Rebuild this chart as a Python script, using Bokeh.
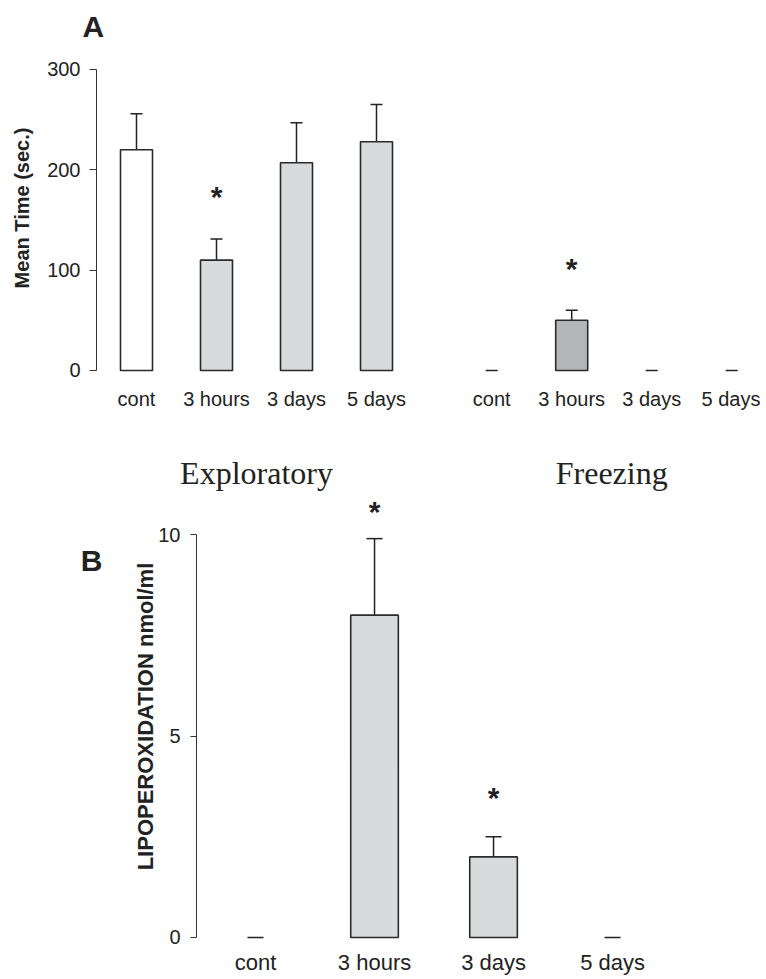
from bokeh.plotting import figure
from bokeh.models import (ColumnDataSource, Range1d, FixedTicker, LinearAxis,
                          Whisker, TeeHead)
from bokeh.core.properties import value
from bokeh.embed import file_html
from bokeh.resources import INLINE

# ---------------- data ----------------
categories = ["cont", "3 hours", "3 days", "5 days"]
groups = ["Exploratory", "Freezing"]

exploratory_mean = [220, 110, 207, 228]
exploratory_err = [36, 21, 40, 37]
exploratory_star = [None, 176, None, None]

freezing_mean = [0, 50, 0, 0]
freezing_err = [0, 10, 0, 0]
freezing_star = [None, 105, None, None]

lipo_mean = [0, 8.0, 2.0, 0]
lipo_err = [0, 1.9, 0.5, 0]
lipo_star = [None, 10.65, 3.55, None]

top_ticks = [0, 100, 200, 300]
bottom_ticks = [0, 5, 10]

# ---------------- styles ----------------
EXPL_COLORS = ["#ffffff", "#d9dadc", "#d9dadc", "#d9dadc"]
FREEZ_COLOR = "#b4b5b7"
LIPO_COLOR = "#d9dadc"
INK = "#222222"
SANS = "Liberation Sans"
SERIF = "Liberation Serif"
GROUP_GAP = 0.44
BAR_W = 0.4
B_TICK = 9.35   # vertical position of the panel letter "B"


def style_common(p):
    p.xgrid.visible = False
    p.ygrid.visible = False
    p.outline_line_color = None
    p.background_fill_color = "white"
    p.border_fill_color = "white"


def bare_axis(ax, standoff, font, size, style="normal"):
    ax.axis_line_color = None
    ax.major_tick_line_color = None
    ax.minor_tick_line_color = None
    ax.major_tick_out = 0
    ax.major_tick_in = 0
    ax.major_label_standoff = standoff
    ax.major_label_text_font = font
    ax.major_label_text_font_size = size
    ax.major_label_text_font_style = style
    ax.major_label_text_color = INK


# ================= panel A =================
x_expl = [float(i) for i in range(len(categories))]
x_freez = [len(categories) + GROUP_GAP + i for i in range(len(categories))]
x_all = x_expl + x_freez
mean_all = exploratory_mean + freezing_mean
err_all = exploratory_err + freezing_err
fill_all = EXPL_COLORS + [FREEZ_COLOR] * len(freezing_mean)
star_all = exploratory_star + freezing_star
labels_all = categories + categories

bars_a = ColumnDataSource(dict(
    x=[x for x, m in zip(x_all, mean_all) if m > 0],
    top=[m for m in mean_all if m > 0],
    fill=[f for f, m in zip(fill_all, mean_all) if m > 0],
))
err_a = ColumnDataSource(dict(
    x=x_all, lower=mean_all, upper=[m + e for m, e in zip(mean_all, err_all)]))
star_a = ColumnDataSource(dict(
    x=[x for x, s in zip(x_all, star_all) if s is not None],
    y=[s for s in star_all if s is not None],
    t=["*" for s in star_all if s is not None]))

pA = figure(width=760, height=493, x_range=Range1d(-0.5, 7.7),
            y_range=Range1d(-3, 326.9), output_backend="svg",
            toolbar_location=None, title="A",
            min_border_left=96, min_border_right=8, min_border_top=42,
            min_border_bottom=120)
style_common(pA)
pA.title.text_font = SANS
pA.title.text_font_size = "30px"
pA.title.text_font_style = "bold"
pA.title.text_color = INK
pA.title.align = "left"
pA.title.offset = -14
pA.title.standoff = 0

pA.vbar(x="x", top="top", bottom=0, width=BAR_W, source=bars_a,
        fill_color="fill", line_color="#2a2a2a", line_width=1.6)
wA = Whisker(base="x", lower="lower", upper="upper", source=err_a,
             dimension="height", line_color=INK, line_width=1.5,
             lower_head=None,
             upper_head=TeeHead(size=12, line_color=INK, line_width=1.5))
pA.add_layout(wA)
pA.text(x="x", y="y", text="t", source=star_a, text_align="center",
        text_baseline="middle", text_font=value(SANS),
        text_font_size="30px", text_font_style="bold", text_color=INK,
        y_offset=3)

ya = pA.yaxis[0]
ya.ticker = FixedTicker(ticks=top_ticks)
ya.bounds = (top_ticks[0], top_ticks[-1])
ya.major_tick_out = 7
ya.major_tick_in = 0
ya.minor_tick_line_color = None
ya.axis_line_color = "#333333"
ya.major_tick_line_color = "#333333"
ya.major_label_standoff = 9
ya.major_label_text_font = SANS
ya.major_label_text_font_size = "20px"
ya.major_label_text_color = INK
ya.axis_label = "Mean Time (sec.)"
ya.axis_label_text_font = SANS
ya.axis_label_text_font_size = "20px"
ya.axis_label_text_font_style = "bold"
ya.axis_label_text_color = INK
ya.axis_label_standoff = 11

xa = pA.xaxis[0]
xa.ticker = FixedTicker(ticks=x_all)
xa.major_label_overrides = {x: lab for x, lab in zip(x_all, labels_all)}
bare_axis(xa, 14, SANS, "20px")

group_centers = [sum(x_expl) / len(x_expl), sum(x_freez) / len(x_freez)]
xg = LinearAxis(ticker=FixedTicker(ticks=group_centers),
                major_label_overrides={c: g for c, g in zip(group_centers, groups)})
bare_axis(xg, 42, SERIF, "32px")
pA.add_layout(xg, "below")

# ================= panel B =================
x_b = [float(i) for i in range(len(categories))]
bars_b = ColumnDataSource(dict(
    x=[x for x, m in zip(x_b, lipo_mean) if m > 0],
    top=[m for m in lipo_mean if m > 0]))
err_b = ColumnDataSource(dict(
    x=x_b, lower=lipo_mean, upper=[m + e for m, e in zip(lipo_mean, lipo_err)]))
star_b = ColumnDataSource(dict(
    x=[x for x, s in zip(x_b, lipo_star) if s is not None],
    y=[s for s in lipo_star if s is not None],
    t=["*" for s in lipo_star if s is not None]))

pB = figure(width=760, height=486, x_range=Range1d(-0.496, 4.176),
            y_range=Range1d(-0.05, 11.02), output_backend="svg",
            toolbar_location=None, title=None,
            min_border_left=196, min_border_right=8, min_border_top=0,
            min_border_bottom=40)
style_common(pB)

pB.vbar(x="x", top="top", bottom=0, width=BAR_W, source=bars_b,
        fill_color=LIPO_COLOR, line_color="#2a2a2a", line_width=1.6)
wB = Whisker(base="x", lower="lower", upper="upper", source=err_b,
             dimension="height", line_color=INK, line_width=1.5,
             lower_head=None,
             upper_head=TeeHead(size=16, line_color=INK, line_width=1.5))
pB.add_layout(wB)
pB.text(x="x", y="y", text="t", source=star_b, text_align="center",
        text_baseline="middle", text_font=value(SANS),
        text_font_size="30px", text_font_style="bold", text_color=INK,
        y_offset=3)

yb = pB.yaxis[0]
yb.ticker = FixedTicker(ticks=bottom_ticks)
yb.bounds = (bottom_ticks[0], bottom_ticks[-1])
yb.major_tick_out = 6
yb.major_tick_in = 0
yb.minor_tick_line_color = None
yb.axis_line_color = "#333333"
yb.major_tick_line_color = "#333333"
yb.major_label_standoff = 10
yb.major_label_text_font = SANS
yb.major_label_text_font_size = "20px"
yb.major_label_text_color = INK
yb.axis_label = "LIPOPEROXIDATION nmol/ml"
yb.axis_label_text_font = SANS
yb.axis_label_text_font_size = "22px"
yb.axis_label_text_font_style = "bold"
yb.axis_label_text_color = INK
yb.axis_label_standoff = -3

# panel letter "B" as the only label of an outer left axis
yl = LinearAxis(ticker=FixedTicker(ticks=[B_TICK]),
                major_label_overrides={B_TICK: "B"})
bare_axis(yl, 28, SANS, "30px", "bold")
yl.major_label_orientation = "horizontal"
pB.add_layout(yl, "left")

xb = pB.xaxis[0]
xb.ticker = FixedTicker(ticks=x_b)
xb.major_label_overrides = {x: lab for x, lab in zip(x_b, categories)}
bare_axis(xb, 10, SANS, "22px")

open("out.html", "w").write(file_html([pA, pB], INLINE))
